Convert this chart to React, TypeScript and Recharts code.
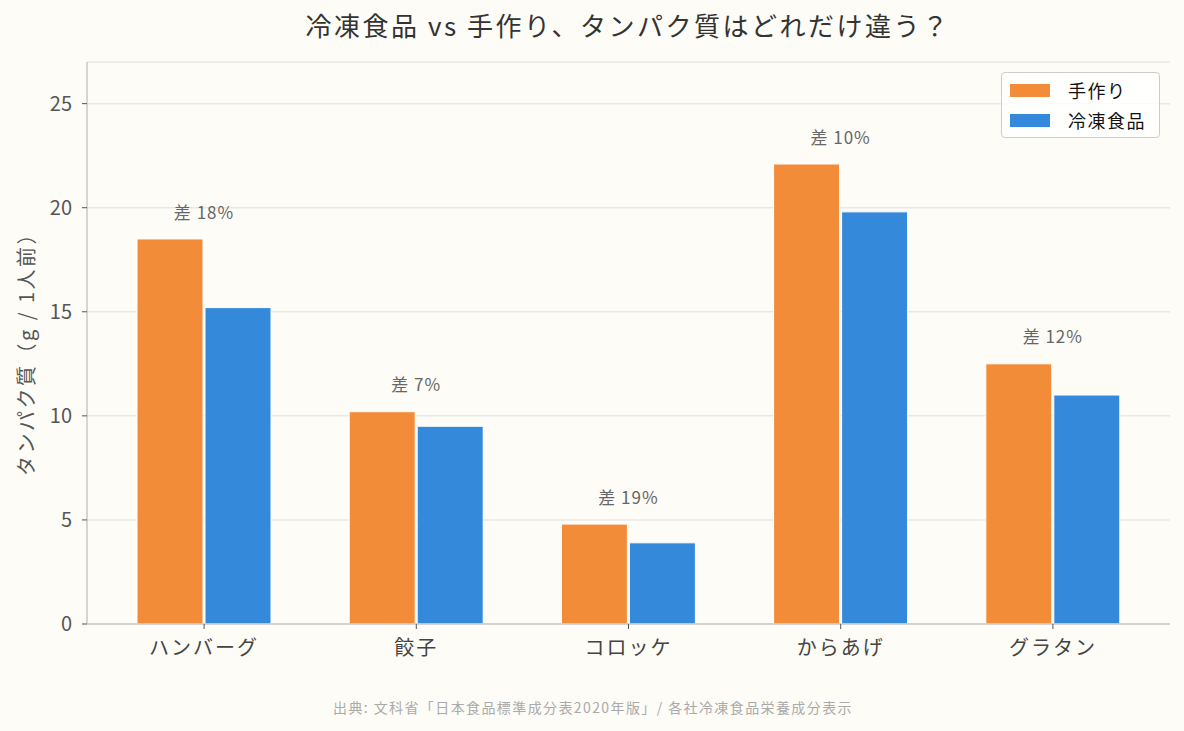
import React from "react";
import {
  BarChart,
  Bar,
  XAxis,
  YAxis,
  CartesianGrid,
  LabelList,
} from "recharts";

const categories = ["ハンバーグ", "餃子", "コロッケ", "からあげ", "グラタン"];
const homemade = [18.5, 10.2, 4.8, 22.1, 12.5];
const frozen = [15.2, 9.5, 3.9, 19.8, 11.0];
const yTicks = [0, 5, 10, 15, 20, 25];

const ORANGE = "#F28C38";
const BLUE = "#3589DB";
const BG = "#FDFCF6";
const FONT = "'Noto Sans CJK JP', 'Noto Sans', sans-serif";

const data = categories.map((name, i) => ({
  name,
  homemade: homemade[i],
  frozen: frozen[i],
}));

// 差 label sits centred between the two bars, a little above the taller one
function DiffLabel(props: any) {
  const { x, y, width, index } = props;
  const h = homemade[index];
  const f = frozen[index];
  const pct = Math.round(((h - f) / h) * 100);
  return (
    <text
      x={x + width + 1}
      y={y - 25}
      textAnchor="middle"
      dominantBaseline="middle"
      fontSize={17}
      letterSpacing={1}
      fill="#666"
      fontFamily={FONT}
    >
      {`差 ${pct}%`}
    </text>
  );
}

export default function App() {
  return (
    <div
      style={{
        position: "absolute",
        left: 0,
        top: 0,
        width: 1184,
        height: 731,
        background: BG,
        fontFamily: FONT,
      }}
    >
      <div
        style={{
          position: "absolute",
          left: 0,
          width: 1256,
          top: 6,
          textAlign: "center",
          fontSize: 26,
          letterSpacing: 2.5,
          color: "#333",
        }}
      >
        冷凍食品 vs 手作り、タンパク質はどれだけ違う？
      </div>

      <BarChart
        width={1184}
        height={731}
        data={data}
        margin={{ top: 62, right: 14, bottom: 67, left: 27 }}
        barGap={2}
        barSize={66}
      >
        <CartesianGrid
          vertical={false}
          stroke="#E8E8E6"
          strokeWidth={1.5}
        />
        <XAxis
          dataKey="name"
          padding={{ left: 11, right: 11 }}
          height={40}
          axisLine={{ stroke: "#C8C8C8", strokeWidth: 1.5 }}
          tickLine={{ stroke: "#555" }}
          tickSize={5}
          tickMargin={12}
          tick={{ fontSize: 20, fill: "#444", fontFamily: FONT, letterSpacing: 2 }}
        />
        <YAxis
          domain={[0, 27]}
          ticks={yTicks}
          width={60}
          axisLine={{ stroke: "#C8C8C8", strokeWidth: 1.5 }}
          tickLine={{ stroke: "#555" }}
          tickSize={5}
          tickMargin={10}
          tick={{ fontSize: 20, fill: "#555", fontFamily: FONT }}
        />
        <Bar
          dataKey="homemade"
          fill={ORANGE}
          stroke="#fff"
          strokeWidth={1}
          isAnimationActive={false}
        >
          <LabelList dataKey="homemade" content={<DiffLabel />} />
        </Bar>
        <Bar
          dataKey="frozen"
          fill={BLUE}
          stroke="#fff"
          strokeWidth={1}
          isAnimationActive={false}
        />
      </BarChart>

      <div
        style={{
          position: "absolute",
          left: 25,
          top: 349,
          transform: "translate(-50%, -50%) rotate(-90deg)",
          whiteSpace: "nowrap",
          fontSize: 20,
          letterSpacing: 2.5,
          color: "#555",
        }}
      >
        タンパク質（g / 1人前）
      </div>

      <div
        style={{
          position: "absolute",
          left: 1001,
          top: 72,
          width: 157,
          height: 64,
          border: "1px solid #CCC",
          borderRadius: 4,
          background: "rgba(255,255,255,0.8)",
        }}
      >
        {[
          { label: "手作り", color: ORANGE },
          { label: "冷凍食品", color: BLUE },
        ].map((item, i) => (
          <div
            key={item.label}
            style={{
              position: "absolute",
              left: 8,
              top: 6 + i * 30,
              height: 22,
              display: "flex",
              alignItems: "center",
            }}
          >
            <span
              style={{
                display: "inline-block",
                width: 40,
                height: 13,
                background: item.color,
              }}
            />
            <span
              style={{
                marginLeft: 18,
                fontSize: 18,
                letterSpacing: 1.5,
                color: "#111",
              }}
            >
              {item.label}
            </span>
          </div>
        ))}
      </div>

      <div
        style={{
          position: "absolute",
          left: 0,
          width: 1186,
          top: 697,
          textAlign: "center",
          fontSize: 14,
          letterSpacing: 1.4,
          color: "#AAA",
        }}
      >
        出典: 文科省「日本食品標準成分表2020年版」/ 各社冷凍食品栄養成分表示
      </div>
    </div>
  );
}
